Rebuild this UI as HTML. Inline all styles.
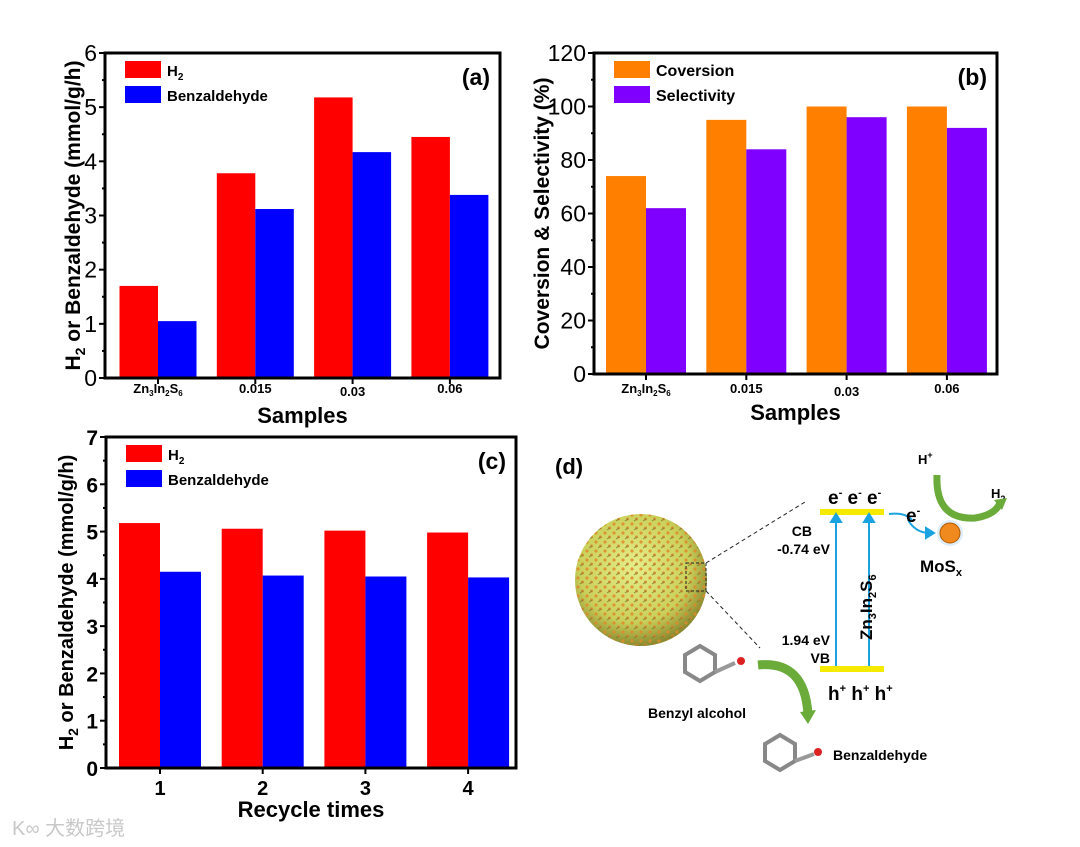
<!DOCTYPE html>
<html><head><meta charset="utf-8"><style>
html,body{margin:0;padding:0;background:#fff;}
svg{display:block;font-family:"Liberation Sans",Arial,sans-serif;}
</style></head><body>
<svg id="fig" width="1080" height="847" viewBox="0 0 1080 847" xmlns="http://www.w3.org/2000/svg">
<rect width="1080" height="847" fill="#fff"/>
<g id="pa"></g>
<g id="pb"></g>
<g id="pc"></g>

<!-- panel d -->
<g>
  <text x="555" y="474" font-size="22" font-weight="bold">(d)</text>
  <defs>
    <radialGradient id="sph" cx="45%" cy="40%" r="60%">
      <stop offset="0" stop-color="#e6ee8a"/><stop offset="0.7" stop-color="#c9d05a"/><stop offset="1" stop-color="#8a8a30"/>
    </radialGradient>
    <pattern id="dots" width="9" height="9" patternUnits="userSpaceOnUse">
      <circle cx="2" cy="2" r="1.6" fill="#e08a2a"/><circle cx="6.5" cy="6" r="1.5" fill="#d9822a"/><path d="M4 8 l3 -2" stroke="#7d7a30" stroke-width="1"/>
    </pattern>
  </defs>
  <circle cx="641" cy="580" r="66" fill="url(#sph)"/>
  <circle cx="641" cy="580" r="66" fill="url(#dots)" opacity="0.85"/>
  <rect x="686" y="563" width="20" height="28" fill="none" stroke="#222" stroke-dasharray="3,2" stroke-width="1"/>
  <line x1="706" y1="563" x2="805" y2="502" stroke="#222" stroke-dasharray="4,3"/>
  <line x1="706" y1="591" x2="760" y2="648" stroke="#222" stroke-dasharray="4,3"/>
  <rect x="820" y="509" width="64" height="6" fill="#f5ea00"/>
  <rect x="820" y="666" width="64" height="6" fill="#f5ea00"/>
  <g stroke="#1aa3e0" stroke-width="2" fill="#1aa3e0">
    <line x1="836" y1="666" x2="836" y2="520"/><path d="M831 522 L836 514 L841 522Z"/>
    <line x1="869" y1="666" x2="869" y2="520"/><path d="M864 522 L869 514 L874 522Z"/>
    <path d="M889 514 Q905 512 912 520" fill="none"/>
    <path d="M908 520 Q915 532 928 533" fill="none"/><path d="M926 528 L934 533 L926 538Z"/>
  </g>
  <text x="828" y="504" font-size="19" font-weight="bold">e<tspan font-size="11" dy="-8">-</tspan><tspan dy="8"> e</tspan><tspan font-size="11" dy="-8">-</tspan><tspan dy="8"> e</tspan><tspan font-size="11" dy="-8">-</tspan></text>
  <text x="906" y="522" font-size="19" font-weight="bold">e<tspan font-size="11" dy="-8">-</tspan></text>
  <text x="828" y="700" font-size="19" font-weight="bold">h<tspan font-size="11" dy="-8">+</tspan><tspan dy="8"> h</tspan><tspan font-size="11" dy="-8">+</tspan><tspan dy="8"> h</tspan><tspan font-size="11" dy="-8">+</tspan></text>
  <text x="812" y="536" font-size="14" font-weight="bold" text-anchor="end">CB</text>
  <text x="830" y="554" font-size="14" font-weight="bold" text-anchor="end">-0.74 eV</text>
  <text x="830" y="645" font-size="14" font-weight="bold" text-anchor="end">1.94 eV</text>
  <text x="830" y="663" font-size="14" font-weight="bold" text-anchor="end">VB</text>
  <text transform="translate(872,640) rotate(-90)" font-size="17" font-weight="bold">Zn<tspan font-size="11" dy="4">3</tspan><tspan dy="-4">In</tspan><tspan font-size="11" dy="4">2</tspan><tspan dy="-4">S</tspan><tspan font-size="11" dy="4">6</tspan></text>
  <circle cx="950" cy="533" r="13" fill="#cfe6f7" opacity="0.7"/>
  <circle cx="950" cy="533" r="10" fill="#f08a1e" stroke="#b35a00"/>
  <text x="920" y="572" font-size="17" font-weight="bold">MoS<tspan font-size="11" dy="4">x</tspan></text>
  <text x="918" y="464" font-size="13" font-weight="bold">H<tspan font-size="9" dy="-6">+</tspan></text>
  <text x="991" y="498" font-size="13" font-weight="bold">H<tspan font-size="9" dy="4">2</tspan></text>
  <path d="M937 475 Q935 520 975 518 Q995 515 1000 503" fill="none" stroke="#6aab3a" stroke-width="7"/>
  <path d="M994 500 L1007 498 L1002 510Z" fill="#6aab3a"/>
  <path d="M758 665 Q805 660 808 715" fill="none" stroke="#6aab3a" stroke-width="9"/>
  <path d="M800 712 L808 724 L816 710Z" fill="#6aab3a"/>
  <g stroke="#888" stroke-width="4" fill="none">
    <polygon points="700,646 715,655 715,672 700,681 685,672 685,655"/>
    <line x1="715" y1="672" x2="735" y2="663" stroke="#999"/>
  </g>
  <circle cx="741" cy="661" r="4" fill="#d22"/>
  <text x="648" y="718" font-size="14" font-weight="bold">Benzyl alcohol</text>
  <g stroke="#888" stroke-width="4" fill="none">
    <polygon points="780,735 795,744 795,761 780,770 765,761 765,744"/>
    <line x1="795" y1="761" x2="814" y2="754" stroke="#999"/>
  </g>
  <circle cx="818" cy="752" r="4" fill="#d22"/>
  <text x="833" y="760" font-size="14" font-weight="bold">Benzaldehyde</text>
</g>
<text x="12" y="835" font-size="20" fill="#c8c8c8" font-family="'Liberation Sans','Noto Sans CJK SC',sans-serif">K∞ 大数跨境</text>
</svg>
<script>
// Panel (a)
const aCategories = ["Zn3In2S6", "0.015", "0.03", "0.06"];
const aH2 = [1.70, 3.78, 5.18, 4.45];
const aBenz = [1.05, 3.12, 4.17, 3.38];
const aTicks = [0, 1, 2, 3, 4, 5, 6];
// Panel (b)
const bCategories = ["Zn3In2S6", "0.015", "0.03", "0.06"];
const bConversion = [74, 95, 100, 100];
const bSelectivity = [62, 84, 96, 92];
const bTicks = [0, 20, 40, 60, 80, 100, 120];
// Panel (c)
const cCategories = ["1", "2", "3", "4"];
const cH2 = [5.18, 5.06, 5.02, 4.98];
const cBenz = [4.15, 4.07, 4.05, 4.03];
const cTicks = [0, 1, 2, 3, 4, 5, 6, 7];

const NS = "http://www.w3.org/2000/svg";
function mk(parent, tag, attrs, text) {
  const e = document.createElementNS(NS, tag);
  for (const k in attrs) e.setAttribute(k, attrs[k]);
  if (text !== undefined) e.textContent = text;
  parent.appendChild(e);
  return e;
}
function zn(el) {
  el.innerHTML = 'Zn<tspan font-size="8" dy="3">3</tspan><tspan dy="-3">In</tspan><tspan font-size="8" dy="3">2</tspan><tspan dy="-3">S</tspan><tspan font-size="8" dy="3">6</tspan>';
}
function chart(g, o) {
  const ys = v => o.bottom - (v - o.ymin) / (o.ymax - o.ymin) * (o.bottom - o.top);
  const xc = i => o.c0 + i * o.step;
  o.s1.forEach((v, i) => {
    const r = mk(g, "rect", {x: xc(i) - o.bw, y: ys(v), width: o.bw, height: o.bottom - ys(v), fill: o.col1});
    
    
  });
  o.s2.forEach((v, i) => {
    const r = mk(g, "rect", {x: xc(i), y: ys(v), width: o.bw, height: o.bottom - ys(v), fill: o.col2});
    
    
  });
  const fr = mk(g, "rect", {x: o.left, y: o.top, width: o.right - o.left, height: o.bottom - o.top, fill: "none", stroke: "#000", "stroke-width": 3});
  
  
  o.ticks.forEach((t, i) => {
    const y = ys(t);
    mk(g, "line", {x1: o.left - 6, x2: o.left, y1: y, y2: y, stroke: "#000", "stroke-width": 2});
    if (i < o.ticks.length - 1) {
      const ym = ys(t + (o.ticks[1] - o.ticks[0]) / 2);
      mk(g, "line", {x1: o.left - 3, x2: o.left, y1: ym, y2: ym, stroke: "#000", "stroke-width": 2});
    }
    const tl = mk(g, "text", {x: o.left - 8, y: y + 8, "font-size": o.tickSize, "text-anchor": "end", "font-weight": o.tickBold ? "bold" : "normal"}, String(t));
    
    
  });
  o.cats.forEach((c, i) => {
    mk(g, "line", {x1: xc(i), x2: xc(i), y1: o.bottom, y2: o.bottom + 6, stroke: "#000", "stroke-width": 2});
    const t = mk(g, "text", {x: xc(i), y: o.bottom + o.xlOff + (i === 2 && !o.tickBold ? 3 : 0), "font-size": o.xlSize, "font-weight": "bold", "text-anchor": "middle"}, c);
    if (c === "Zn3In2S6") zn(t);
    
    
  });
  const xt = mk(g, "text", {x: (o.left + o.right) / 2, y: o.xtY, "font-size": 22, "font-weight": "bold", "text-anchor": "middle"}, o.xtitle);
  
  
  const yt = mk(g, "text", {transform: `translate(${o.ytX},${(o.top + o.bottom) / 2}) rotate(-90)`, "font-size": o.ytSize, "font-weight": "bold", "text-anchor": "middle"});
  yt.innerHTML = o.ytitle;
  
  
  const lx = o.left + 20, ly = o.top + 8;
  const l1 = mk(g, "rect", {x: lx, y: ly, width: 36, height: 17, fill: o.col1});
  
  
  const l2 = mk(g, "rect", {x: lx, y: ly + 25, width: 36, height: 17, fill: o.col2});
  
  
  const t1 = mk(g, "text", {x: lx + 42, y: ly + 15, "font-size": o.legSize, "font-weight": "bold"});
  t1.innerHTML = o.leg1;
  
  
  const t2 = mk(g, "text", {x: lx + 42, y: ly + 40, "font-size": o.legSize, "font-weight": "bold"}, o.leg2);
  
  
  const pl = mk(g, "text", {x: o.right - 10, y: o.top + 32, "font-size": 23, "font-weight": "bold", "text-anchor": "end"}, o.label);
  
  
}
const H2leg = 'H<tspan font-size="10" dy="4">2</tspan>';
const Ytitle = 'H<tspan font-size="14" dy="5">2</tspan><tspan dy="-5"> or Benzaldehyde (mmol/g/h)</tspan>';
chart(document.getElementById("pa"), {left:105,right:500,top:53,bottom:378,ymin:0,ymax:6,c0:158,step:97.3,bw:38.5,
  s1:aH2,s2:aBenz,col1:"#ff0000",col2:"#0000ff",n1:"h2",n2:"benzaldehyde",ticks:aTicks,cats:aCategories,
  xlOff:15,xlSize:13,xtitle:"Samples",xtY:423,ytitle:Ytitle,ytX:80,ytSize:21,leg1:H2leg,leg2:"Benzaldehyde",legSize:15,label:"(a)",tickBold:false,tickSize:23});
chart(document.getElementById("pb"), {left:594,right:997,top:53,bottom:374,ymin:0,ymax:120,c0:646,step:100.3,bw:40,
  s1:bConversion,s2:bSelectivity,col1:"#ff8000",col2:"#8000ff",n1:"conversion",n2:"selectivity",ticks:bTicks,cats:bCategories,
  xlOff:19,xlSize:13,xtitle:"Samples",xtY:420,ytitle:"Coversion &amp; Selectivity (%)",ytX:549,ytSize:21,leg1:"Coversion",leg2:"Selectivity",legSize:16,label:"(b)",tickBold:false,tickSize:23});
chart(document.getElementById("pc"), {left:106,right:516,top:437,bottom:768,ymin:0,ymax:7,c0:160,step:102.7,bw:41,
  s1:cH2,s2:cBenz,col1:"#ff0000",col2:"#0000ff",n1:"h2",n2:"benzaldehyde",ticks:cTicks,cats:cCategories,
  xlOff:27,xlSize:20,xtitle:"Recycle times",xtY:817,ytitle:Ytitle,ytX:73,ytSize:20,leg1:H2leg,leg2:"Benzaldehyde",legSize:15,label:"(c)",tickBold:true,tickSize:21});
</script>
</body></html>
